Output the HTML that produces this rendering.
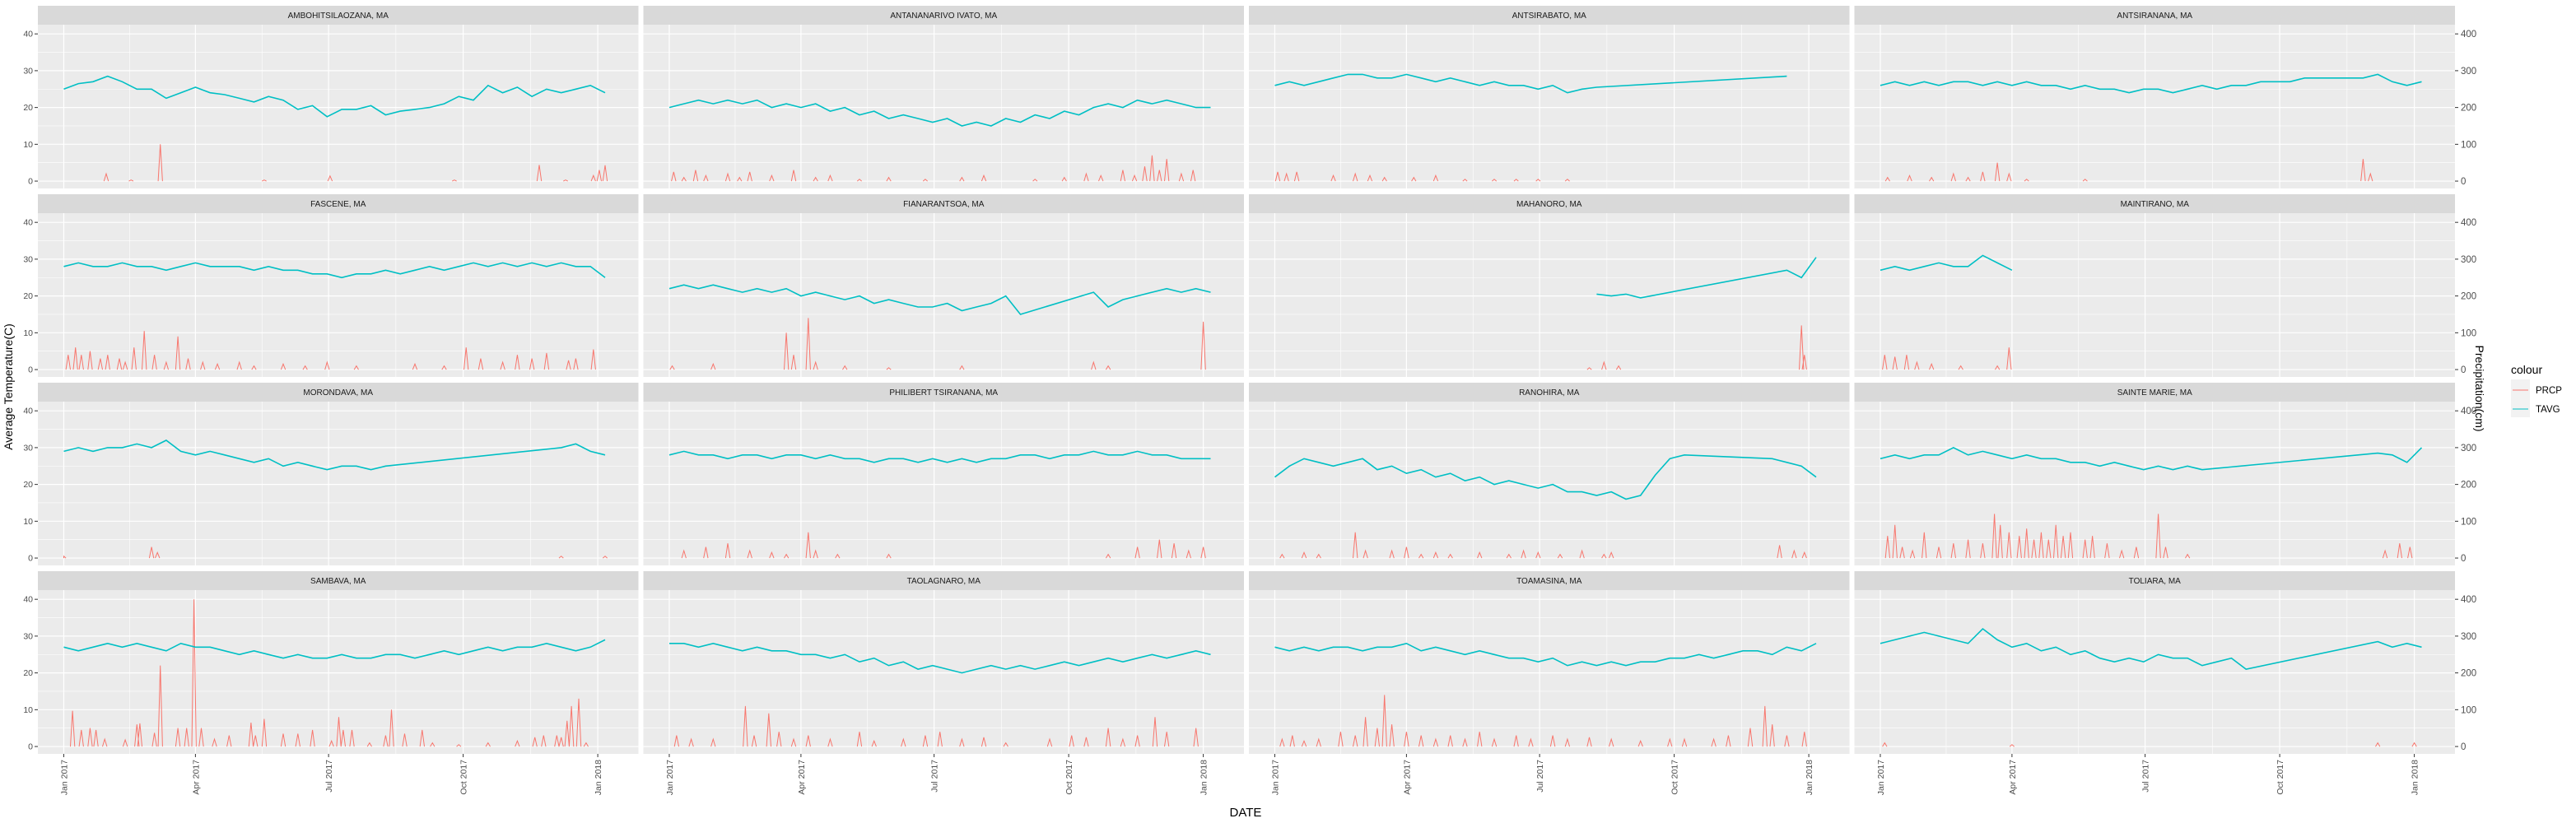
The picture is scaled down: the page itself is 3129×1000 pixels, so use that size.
<!DOCTYPE html>
<html><head><meta charset="utf-8"><style>
html,body{margin:0;padding:0;background:#fff;}
svg{display:block;font-family:"Liberation Sans",Arial,sans-serif;}
</style></head><body>
<svg id="chart" width="3129" height="1000" viewBox="0 0 3129 1000" xmlns="http://www.w3.org/2000/svg">
<rect x="0" y="0" width="3129" height="1000" fill="#fff"/>
<g id="panels"></g>
<text x="1513" y="992" text-anchor="middle" font-size="15" fill="#000">DATE</text>
<text transform="translate(15,470) rotate(-90)" text-anchor="middle" font-size="14" fill="#000">Average Temperature(C)</text>
<text transform="translate(3007,472) rotate(90)" text-anchor="middle" font-size="14" fill="#000">Precipitation(cm)</text>
<g>
<text x="3050" y="454" font-size="14" fill="#000">colour</text>
<rect x="3050" y="461" width="23" height="46" fill="#f2f2f2"/>
<line x1="3052" y1="474" x2="3071" y2="474" stroke="#F8766D" stroke-width="1"/>
<line x1="3052" y1="497" x2="3071" y2="497" stroke="#00BFC4" stroke-width="1"/>
<text x="3080" y="478" font-size="11.5" fill="#000">PRCP</text>
<text x="3080" y="501" font-size="11.5" fill="#000">TAVG</text>
</g>
</svg>
<script>
const stations = ["AMBOHITSILAOZANA, MA","ANTANANARIVO IVATO, MA","ANTSIRABATO, MA","ANTSIRANANA, MA","FASCENE, MA","FIANARANTSOA, MA","MAHANORO, MA","MAINTIRANO, MA","MORONDAVA, MA","PHILIBERT TSIRANANA, MA","RANOHIRA, MA","SAINTE MARIE, MA","SAMBAVA, MA","TAOLAGNARO, MA","TOAMASINA, MA","TOLIARA, MA"];
const tavgDays = [0,10,20,30,40,50,60,70,80,90,100,110,120,130,140,150,160,170,180,190,200,210,220,230,240,250,260,270,280,290,300,310,320,330,340,350,360,370];
const n = null;
const tavgValues = [
[25,26.5,27,28.5,27,25,25,22.5,24,25.5,24,23.5,22.5,21.5,23,22,19.5,20.5,17.5,19.5,19.5,20.5,18,19,19.5,20,21,23,22,26,24,25.5,23,25,24,25,26,24],
[20,21,22,21,22,21,22,20,21,20,21,19,20,18,19,17,18,17,16,17,15,16,15,17,16,18,17,19,18,20,21,20,22,21,22,21,20,20],
[26,27,26,27,28,29,29,28,28,29,28,27,28,27,26,27,26,26,25,26,24,25,25.5,n,n,n,n,n,n,n,n,n,n,n,n,28.5,n,n],
[26,27,26,27,26,27,27,26,27,26,27,26,26,25,26,25,25,24,25,25,24,25,26,25,26,26,27,27,27,28,28,28,28,28,29,27,26,27],
[28,29,28,28,29,28,28,27,28,29,28,28,28,27,28,27,27,26,26,25,26,26,27,26,27,28,27,28,29,28,29,28,29,28,29,28,28,25],
[22,23,22,23,22,21,22,21,22,20,21,20,19,20,18,19,18,17,17,18,16,17,18,20,15,n,n,n,n,21,17,19,20,21,22,21,22,21],
[n,n,n,n,n,n,n,n,n,n,n,n,n,n,n,n,n,n,n,n,n,n,20.5,20,20.5,19.5,n,n,n,n,n,n,n,n,n,27,25,30.5],
[27,28,27,28,29,28,28,31,29,27,n,n,n,n,n,n,n,n,n,n,n,n,n,n,n,n,n,n,n,n,n,n,n,n,n,n,n,n],
[29,30,29,30,30,31,30,32,29,28,29,28,27,26,27,25,26,25,24,25,25,24,25,n,n,n,n,n,n,n,n,n,n,n,30,31,29,28],
[28,29,28,28,27,28,28,27,28,28,27,28,27,27,26,27,27,26,27,26,27,26,27,27,28,28,27,28,28,29,28,28,29,28,28,27,27,27],
[22,25,27,26,25,26,27,24,25,23,24,22,23,21,22,20,21,20,19,20,18,18,17,18,16,17,22.5,27,28,n,n,n,n,n,27,26,25,22],
[27,28,27,28,28,30,28,29,28,27,28,27,27,26,26,25,26,25,24,25,24,25,24,n,n,n,n,n,n,n,n,n,n,n,28.5,28,26,30],
[27,26,27,28,27,28,27,26,28,27,27,26,25,26,25,24,25,24,24,25,24,24,25,25,24,25,26,25,26,27,26,27,27,28,27,26,27,29],
[28,28,27,28,27,26,27,26,26,25,25,24,25,23,24,22,23,21,22,21,20,21,22,21,22,21,22,23,22,23,24,23,24,25,24,25,26,25],
[27,26,27,26,27,27,26,27,27,28,26,27,26,25,26,25,24,24,23,24,22,23,22,23,22,23,23,24,24,25,24,25,26,26,25,27,26,28],
[28,29,30,31,30,29,28,32,29,27,28,26,27,25,26,24,23,24,23,25,24,24,22,23,24,21,n,n,n,n,n,n,n,n,28.5,27,28,27]
];
const prcpDays = [
[29,46,66,137,182,267,325,343,362,366,370],
[3,10,18,25,40,48,55,70,85,100,110,130,150,175,200,215,250,270,285,295,310,318,325,330,335,340,350,358],
[2,8,15,40,55,65,75,95,110,130,150,165,180,200],
[5,20,35,50,60,70,80,88,100,140,330,335],
[3,8,12,18,25,30,38,42,48,55,62,70,78,85,95,105,120,130,150,165,180,200,240,260,275,285,300,310,320,330,345,350,362],
[2,30,80,85,95,100,120,150,200,290,300,365],
[215,225,235,360,362],
[3,10,18,25,35,55,80,88],
[0,60,64,340,370],
[10,25,40,55,70,80,95,100,115,150,300,320,335,345,355,365],
[5,20,30,55,62,80,90,100,110,120,140,160,170,180,195,210,225,230,345,355,362],
[5,10,15,22,30,40,50,60,70,78,82,88,95,100,105,110,115,120,125,130,140,145,155,165,175,190,195,210,345,355,362],
[6,12,18,22,28,42,50,52,62,66,78,84,89,94,103,113,128,131,137,150,160,170,183,188,191,197,209,220,224,233,245,252,270,290,310,322,328,337,340,344,347,352,357],
[5,15,30,52,58,68,75,85,95,110,130,140,160,175,185,200,215,230,260,275,285,300,310,320,332,340,360],
[5,12,20,30,45,55,62,70,75,80,90,100,110,120,130,140,150,165,175,190,200,215,230,250,270,280,300,310,325,335,340,350,362],
[3,90,340,365]
];
const prcpValues = [
[20,3,100,3,14,3,44,3,15,30,43],
[25,10,30,15,20,10,25,15,30,10,15,5,10,5,10,15,5,10,20,15,30,15,40,70,30,60,20,30],
[25,20,25,15,20,15,10,10,15,5,5,5,5,5],
[10,15,10,20,10,25,50,20,5,5,60,20],
[40,60,40,50,30,40,30,20,60,105,40,20,90,30,20,15,20,10,15,10,20,10,15,10,60,30,20,40,30,45,25,30,55],
[10,15,100,40,140,20,10,5,10,20,10,130],
[5,20,10,120,40],
[40,35,40,20,15,10,10,60],
[5,30,15,5,5],
[20,30,40,20,15,10,70,20,10,10,10,30,50,40,20,30],
[10,15,10,70,20,20,30,10,15,10,15,10,20,15,10,20,10,15,35,20,15],
[60,90,30,20,70,30,40,50,40,120,90,70,60,80,50,70,50,90,60,70,50,60,40,20,30,120,30,10,20,40,30],
[97,45,50,45,20,18,60,63,37,220,50,50,400,50,20,30,65,30,75,35,35,45,15,80,45,45,10,30,100,35,45,10,5,10,15,25,30,30,25,70,110,130,10],
[30,20,20,110,30,90,40,20,30,20,40,15,20,30,40,20,25,10,20,30,25,50,20,30,80,40,50],
[20,30,15,20,40,30,80,50,140,60,40,30,20,30,20,40,20,30,20,30,20,25,20,15,20,20,20,30,50,110,60,30,40],
[10,5,10,10]
];
const tempTicks = [0,10,20,30,40];
const prcpTickLabels = ["0","100","200","300","400"];
const dateTickDays = [0,90,181,273,365];
const dateTickLabels = ["Jan 2017","Apr 2017","Jul 2017","Oct 2017","Jan 2018"];

const NS = "http://www.w3.org/2000/svg";
const root = document.getElementById("panels");
const PL = 46, PW = 729.5, PITCH_X = 735.5, PT = 30, PH = 199, PITCH_Y = 229;
const DMIN = -17.7, DMAX = 392.8, TMIN = -2, TMAX = 42.5;
function mk(tag, attrs, parent) {
  const e = document.createElementNS(NS, tag);
  for (const k in attrs) e.setAttribute(k, attrs[k]);
  parent.appendChild(e);
  return e;
}
function xScale(left, d) { return left + (d - DMIN) / (DMAX - DMIN) * PW; }
function yScale(top, t) { return top + (TMAX - t) / (TMAX - TMIN) * PH; }

stations.forEach((name, i) => {
  const c = i % 4, r = Math.floor(i / 4);
  const left = PL + c * PITCH_X, top = PT + r * PITCH_Y;
  const g = mk("g", {}, root);
  
  
  const strip = mk("rect", {x: left, y: top - 23, width: PW, height: 23, fill: "#d9d9d9"}, g);
  
  
  const st = mk("text", {x: left + PW / 2, y: top - 8, "text-anchor": "middle", "font-size": "10", fill: "#1a1a1a"}, g);
  st.textContent = name;
  
  
  const bg = mk("rect", {x: left, y: top, width: PW, height: PH, fill: "#ebebeb"}, g);
  
  
  [5, 15, 25, 35].forEach(t => {
    const l = mk("line", {x1: left, x2: left + PW, y1: yScale(top, t), y2: yScale(top, t), stroke: "#fff", "stroke-width": 0.6}, g);
    
    
  });
  for (let k = 0; k < dateTickDays.length - 1; k++) {
    const m = (dateTickDays[k] + dateTickDays[k + 1]) / 2;
    const l = mk("line", {x1: xScale(left, m), x2: xScale(left, m), y1: top, y2: top + PH, stroke: "#fff", "stroke-width": 0.6}, g);
    
    
  }
  tempTicks.forEach(t => {
    const l = mk("line", {x1: left, x2: left + PW, y1: yScale(top, t), y2: yScale(top, t), stroke: "#fff", "stroke-width": 1.2}, g);
    
    
  });
  dateTickDays.forEach(d => {
    const l = mk("line", {x1: xScale(left, d), x2: xScale(left, d), y1: top, y2: top + PH, stroke: "#fff", "stroke-width": 1.2}, g);
    
    
  });
  let pd = "";
  prcpDays[i].forEach((d, j) => {
    const v = prcpValues[i][j] / 10;
    pd += "M" + xScale(left, Math.max(d - 1.5, 0)).toFixed(1) + "," + yScale(top, 0).toFixed(1) +
          "L" + xScale(left, d).toFixed(1) + "," + yScale(top, v).toFixed(1) +
          "L" + xScale(left, d + 1.5).toFixed(1) + "," + yScale(top, 0).toFixed(1);
  });
  const pp = mk("path", {d: pd, fill: "none", stroke: "#F8766D", "stroke-width": 1}, g);
  
  
  let td = "", first = true;
  tavgDays.forEach((d, j) => {
    const v = tavgValues[i][j];
    if (v === null) return;
    td += (first ? "M" : "L") + xScale(left, d).toFixed(1) + "," + yScale(top, v).toFixed(1);
    first = false;
  });
  const tp = mk("path", {d: td, fill: "none", stroke: "#00BFC4", "stroke-width": 1.6}, g);
  
  
  if (c === 0) {
    tempTicks.forEach(t => {
      const y = yScale(top, t);
      const tk = mk("line", {x1: left - 4, x2: left, y1: y, y2: y, stroke: "#333", "stroke-width": 1}, g);
      
      
      const tl = mk("text", {x: left - 6, y: y + 3.5, "text-anchor": "end", "font-size": "10.5", fill: "#4d4d4d"}, g);
      tl.textContent = String(t);
      
      
    });
  }
  if (c === 3) {
    tempTicks.forEach((t, k) => {
      const y = yScale(top, t);
      const tk = mk("line", {x1: left + PW, x2: left + PW + 4, y1: y, y2: y, stroke: "#333", "stroke-width": 1}, g);
      
      
      const tl = mk("text", {x: left + PW + 7, y: y + 4, "font-size": "11.5", fill: "#4d4d4d"}, g);
      tl.textContent = prcpTickLabels[k];
      
      
    });
  }
  if (r === 3) {
    dateTickDays.forEach((d, k) => {
      const x = xScale(left, d);
      const tk = mk("line", {x1: x, x2: x, y1: top + PH, y2: top + PH + 4, stroke: "#333", "stroke-width": 1}, g);
      
      
      const tl = mk("text", {transform: "translate(" + (x + 4) + "," + (top + PH + 7) + ") rotate(-90)", "text-anchor": "end", "font-size": "10.5", fill: "#4d4d4d"}, g);
      tl.textContent = dateTickLabels[k];
      
      
    });
  }
});
</script>
</body></html>
